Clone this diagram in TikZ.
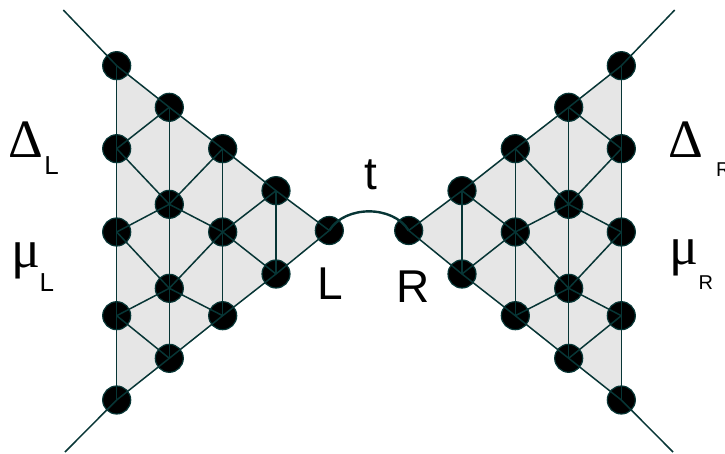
\documentclass[tikz,border=0pt]{standalone}
\usepackage{fontspec}
\setmainfont{Liberation Sans}
\newfontfamily\grk{Liberation Serif}
\usetikzlibrary{backgrounds}
\definecolor{edgec}{HTML}{073535}
\definecolor{fillc}{HTML}{E6E6E6}
\tikzset{
  dot/.style={circle,minimum size=28pt,inner sep=0pt,fill=black,draw=edgec,line width=1.2pt},
  edge/.style={draw=edgec,line width=1.5pt},
  hop/.style={draw=edgec,line width=2.4pt},
  lbl/.style={inner sep=0pt,anchor=base,text=black},
  bigtxt/.style={lbl,font=\fontsize{46}{46}\selectfont},
  greek/.style={lbl,font=\grk\fontsize{54}{54}\selectfont},
  subL/.style={lbl,font=\fontsize{26}{26}\selectfont},
  subR/.style={lbl,font=\fontsize{20}{20}\selectfont}
}
\begin{document}
\begin{tikzpicture}[x=1pt,y=-1pt]
\useasboundingbox (0,0) rectangle (725,454);
\foreach \n/\x/\y in {A/116.7/65.7,B/169.3/107.3,C/116.7/148.7,D/222.7/148.7,E/169.3/204.3,
  F/276/190.7,G/116.7/232,H/222.7/232,I/329.3/230.5,J/169.3/288.3,K/276/274,
  M/116.7/315.7,N/222.7/315.7,O/169.3/358.3,P/116.7/400}{
  \node[dot] (l\n) at (\x,\y) {};
  \node[dot] (r\n) at ({738-\x},\y) {};
}
\coordinate (lTop) at (63.3,10);
\coordinate (lBot) at (65,452);
\coordinate (rTop) at (674.7,10);
\coordinate (rBot) at (673,452);
\begin{scope}[on background layer]
  \fill[fillc] (lA.center) -- (lI.center) -- (lP.center) -- cycle;
  \fill[fillc] (rA.center) -- (rI.center) -- (rP.center) -- cycle;
\end{scope}
\foreach \s in {l,r}{
  \draw[edge] (\s A.center) -- (\s C.center) -- (\s G.center) -- (\s M.center) -- (\s P.center);
  \draw[edge] (\s A.center) -- (\s B.center) -- (\s D.center) -- (\s F.center) -- (\s I.center);
  \draw[edge] (\s P.center) -- (\s O.center) -- (\s N.center) -- (\s K.center) -- (\s I.center);
  \draw[edge] (\s B.center) -- (\s E.center) -- (\s J.center) -- (\s O.center);
  \draw[edge] (\s D.center) -- (\s H.center) -- (\s N.center);
  \draw[edge] (\s F.center) -- (\s K.center);
  \draw[edge] (\s C.center) -- (\s B.center);
  \draw[edge] (\s C.center) -- (\s E.center) -- (\s D.center);
  \draw[edge] (\s G.center) -- (\s E.center) -- (\s H.center) -- (\s F.center);
  \draw[edge] (\s H.center) -- (\s K.center);
  \draw[edge] (\s G.center) -- (\s J.center) -- (\s H.center);
  \draw[edge] (\s M.center) -- (\s J.center) -- (\s N.center);
  \draw[edge] (\s M.center) -- (\s O.center);
  \draw[edge] (\s A.center) -- (\s Top);
  \draw[edge] (\s P.center) -- (\s Bot);
}
\draw[hop] (lI.center) .. controls (345,205) and (393,205) .. (rI.center);
\node[bigtxt] (tl) at (370.9,190) {t};
\node[bigtxt] (Ll) at (330.3,299.3) {L};
\node[bigtxt] (Rl) at (412.7,302.7) {R};
\node[greek] (dL) at (26,157.7) {Δ};
\node[subL] (dLs) at (51.7,174.3) {L};
\node[greek] (mL) at (25.9,267.2) {μ};
\node[subL] (mLs) at (46.9,291) {L};
\node[greek] (dR) at (685.9,157.7) {Δ};
\node[subR,anchor=base west] (dRs) at (716,176.7) {R};
\node[greek] (mR) at (683.9,264.2) {μ};
\node[subR] (mRs) at (705.8,290) {R};
\end{tikzpicture}
\end{document}
